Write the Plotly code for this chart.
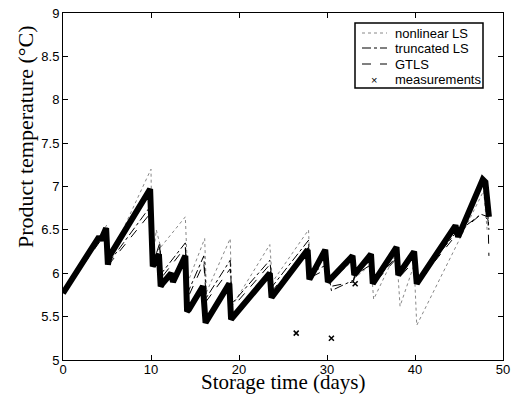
import plotly.graph_objects as go

# measurement band (sawtooth vertices, days / degC)
meas_t = [0, 4.1, 4.3, 4.9, 5.1, 5.3, 9.9, 10.05, 10.2, 10.9, 11.1, 11.3, 12.3, 12.5, 13.9, 14.1, 14.3,
          15.9, 16.2, 18.9, 19.1, 23.5, 23.7, 27.8, 28.0, 29.8, 30.1, 32.9, 33.1, 35.0, 35.2,
          37.9, 38.1, 39.9, 40.2, 44.6, 44.9, 47.7, 48.0, 48.4]
meas_T = [5.77, 6.42, 6.38, 6.52, 6.1, 6.2, 6.97, 6.6, 6.08, 6.22, 5.85, 5.88, 6.0, 5.9, 6.2, 5.56, 5.58,
          5.85, 5.43, 5.88, 5.47, 6.0, 5.72, 6.27, 5.93, 6.27, 5.9, 6.2, 5.98, 6.22, 5.88,
          6.3, 5.98, 6.25, 5.88, 6.55, 6.42, 7.08, 7.05, 6.65]
# isolated measurements
out_t = [26.5, 30.5, 33.2]
out_T = [5.31, 5.25, 5.88]

# nonlinear LS
nl_t = [0, 5.0, 5.2, 10.0, 10.15, 10.6, 11.1, 13.9, 14.2, 16.1, 16.3, 19.0, 19.2, 23.5, 23.8, 27.9, 28.1,
        29.8, 30.1, 33.0, 33.2, 35.0, 35.3, 37.9, 38.3, 39.9, 40.2, 47.8, 48.2]
nl_T = [5.77, 6.56, 6.15, 7.2, 6.1, 6.5, 6.3, 6.65, 5.9, 6.4, 5.78, 6.4, 5.62, 6.33, 5.9, 6.5, 6.0,
        6.2, 5.88, 6.15, 5.95, 6.1, 5.7, 6.25, 5.62, 6.1, 5.4, 6.95, 6.5]

# truncated LS and GTLS share time vertices
mod_t = [0, 5.0, 5.2, 10.0, 10.2, 11.0, 11.2, 13.9, 14.2, 16.0, 16.3, 19.0, 19.2, 23.5, 23.8, 27.9, 28.1,
         30.0, 30.5, 33.0, 33.2, 35.0, 35.3, 38.0, 38.2, 40.0, 40.2, 44.5, 47.5, 48.3, 48.4]
tr_T = [5.78, 6.5, 6.12, 6.78, 6.1, 6.35, 6.0, 6.35, 5.78, 6.2, 5.72, 6.15, 5.65, 6.15, 5.85, 6.38, 6.0,
        6.1, 5.8, 5.92, 6.0, 6.15, 5.9, 6.2, 5.98, 6.2, 5.9, 6.45, 6.68, 6.65, 6.5]
gt_T = [5.77, 6.48, 6.1, 6.7, 6.05, 6.3, 5.95, 6.3, 5.72, 6.12, 5.68, 6.05, 5.6, 6.1, 5.8, 6.3, 5.95,
        6.05, 5.85, 5.9, 5.98, 6.1, 5.88, 6.18, 5.95, 6.15, 5.88, 6.42, 6.68, 6.62, 6.2]

x_ticks = [0, 10, 20, 30, 40, 50]
y_ticks = [5, 5.5, 6, 6.5, 7, 7.5, 8, 8.5, 9]
y_labels = ["5", "5.5", "6", "6.5", "7", "7.5", "8", "8.5", "9"]
legend_names = ["nonlinear LS", "truncated LS", "GTLS", "measurements"]

W, H = 514, 394
L, R, T, B = 63, 11, 13, 34
PW, PH = W - L - R, H - T - B


def px(xp):
    return (xp - L) / PW


def py(yp):
    return (H - B - yp) / PH


fig = go.Figure()
fig.add_trace(go.Scatter(x=nl_t, y=nl_T, mode="lines", name=legend_names[0], showlegend=False,
                         line=dict(color="#888888", width=1, dash="dot")))
fig.add_trace(go.Scatter(x=mod_t, y=tr_T, mode="lines", name=legend_names[1], showlegend=False,
                         line=dict(color="black", width=1, dash="dashdot")))
fig.add_trace(go.Scatter(x=mod_t, y=gt_T, mode="lines", name=legend_names[2], showlegend=False,
                         line=dict(color="black", width=1, dash="dash")))
fig.add_trace(go.Scatter(x=meas_t, y=meas_T, mode="lines", showlegend=False,
                         line=dict(color="black", width=6)))
fig.add_trace(go.Scatter(x=out_t, y=out_T, mode="markers", name=legend_names[3], showlegend=False,
                         marker=dict(symbol="x-thin", size=5, color="black",
                                     line=dict(color="black", width=1.5))))

axis_common = dict(showline=True, linecolor="black", linewidth=1, mirror="allticks",
                   ticks="inside", ticklen=5, tickcolor="black", showgrid=False, zeroline=False,
                   automargin=False,
                   tickfont=dict(family="Liberation Sans, Arial", size=13, color="black"))
fig.update_xaxes(range=[0, 50], tickvals=x_ticks, ticklabelstandoff=-3, **axis_common)
fig.update_yaxes(range=[5, 9], tickvals=y_ticks, ticktext=y_labels, **axis_common)

title_font = dict(family="Liberation Serif, Times New Roman", size=21, color="black")
fig.add_annotation(text="Storage time (days)", xref="paper", yref="paper", x=0.5, y=0,
                   yshift=-9, xanchor="center", yanchor="top", showarrow=False, font=title_font,
                   borderpad=0)
fig.add_annotation(text="Product temperature (°C)", xref="paper", yref="paper", x=px(25), y=py(137),
                   xanchor="center", yanchor="middle", textangle=-90, showarrow=False,
                   font=dict(family="Liberation Serif, Times New Roman", size=22, color="black"))

# legend box drawn by hand to match the compact original
fig.add_shape(type="rect", xref="paper", yref="paper", x0=px(355), x1=px(483), y0=py(88), y1=py(23),
              line=dict(color="black", width=1.5), fillcolor="white", layer="above")
leg_font = dict(family="Liberation Sans, Arial", size=13, color="black")
rows = [33, 48, 64, 80]
styles = [dict(color="#888888", width=1, dash="dot"), dict(color="black", width=1, dash="dashdot"),
          dict(color="black", width=1, dash="dash")]
for i, name in enumerate(legend_names):
    ry = rows[i]
    if i < 3:
        fig.add_shape(type="line", xref="paper", yref="paper", x0=px(362), x1=px(387),
                      y0=py(ry), y1=py(ry), line=styles[i], layer="above")
    else:
        fig.add_annotation(text="×", xref="paper", yref="paper", x=px(374), y=py(ry),
                           xanchor="center", yanchor="middle", showarrow=False,
                           font=dict(family="Liberation Sans, Arial", size=11, color="black"))
    fig.add_annotation(text=name, xref="paper", yref="paper", x=px(393), y=py(ry),
                       xanchor="left", yanchor="middle", showarrow=False, font=leg_font)

fig.update_layout(width=W, height=H, margin=dict(l=L, r=R, t=T, b=B),
                  paper_bgcolor="white", plot_bgcolor="white", showlegend=False)
fig.write_html("out.html", config={"displayModeBar": False},
               post_script="document.body.style.margin='0';")
